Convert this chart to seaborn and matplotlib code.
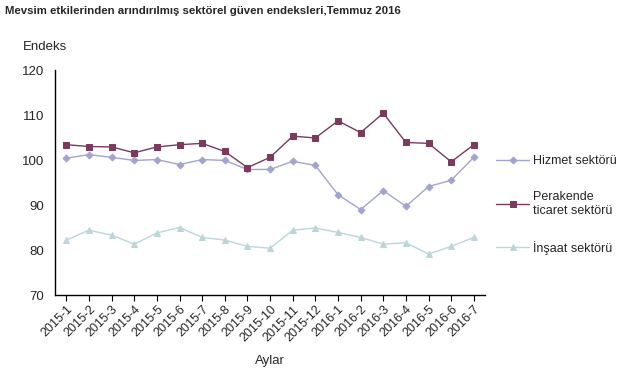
import pandas as pd
import matplotlib.pyplot as plt
import seaborn as sns

# Veriler
aylar = ['2015-1', '2015-2', '2015-3', '2015-4', '2015-5', '2015-6', '2015-7',
         '2015-8', '2015-9', '2015-10', '2015-11', '2015-12', '2016-1', '2016-2',
         '2016-3', '2016-4', '2016-5', '2016-6', '2016-7']
hizmet = [100.4, 101.2, 100.6, 99.9, 100.1, 99.0, 100.1, 99.9, 97.9, 97.9, 99.7, 98.8,
          92.3, 89.0, 93.2, 89.7, 94.1, 95.5, 100.6]
perakende = [103.4, 103.0, 102.9, 101.6, 102.9, 103.4, 103.7, 101.9, 98.3, 100.6, 105.3, 104.9,
             108.7, 106.1, 110.4, 103.9, 103.7, 99.6, 103.4]
insaat = [82.2, 84.4, 83.3, 81.3, 83.8, 85.0, 82.8, 82.2, 80.8, 80.4, 84.4, 84.9,
          83.9, 82.8, 81.3, 81.6, 79.1, 80.8, 82.8]

seriler = ['Hizmet sektörü', 'Perakende\nticaret sektörü', 'İnşaat sektörü']
renkler = ['#a3a3d1', '#7b3a5e', '#bcd6da']
isaretler = ['D', 's', '^']
boyut = [3.5, 5, 4.2]

df = pd.DataFrame({'ay': aylar, seriler[0]: hizmet, seriler[1]: perakende, seriler[2]: insaat})
uzun = df.melt(id_vars='ay', var_name='seri', value_name='endeks')

sns.set_style('white')
plt.rcParams['font.family'] = ['Arial', 'Liberation Sans', 'DejaVu Sans']

fig = plt.figure(figsize=(6.22, 3.77), dpi=100)
ax = fig.add_axes([0.0884, 0.2175, 0.6916, 0.5968])

for s, c, m, ms in zip(seriler, renkler, isaretler, boyut):
    sns.lineplot(data=uzun[uzun['seri'] == s], x='ay', y='endeks', color=c, marker=m,
                 markersize=ms, markeredgecolor=c, linewidth=1, label=s, ax=ax, sort=False)

ax.set_ylim(70, 120)
ax.set_xlim(-0.5, len(aylar) - 0.5)
ax.set_yticks(range(70, 121, 10))
ax.set_xticks(range(len(aylar)))
ax.set_xticklabels(aylar, rotation=45, ha='right', rotation_mode='anchor', fontsize=9)
ax.tick_params(axis='y', labelsize=9.5, length=0, pad=8)
ax.tick_params(axis='x', length=4, width=0.8, direction='out', color='black', pad=2, bottom=True)
for sp in ['top', 'right']:
    ax.spines[sp].set_visible(False)
for sp in ['left', 'bottom']:
    ax.spines[sp].set_color('black')
    ax.spines[sp].set_linewidth(1)

ax.set_xlabel('Aylar', fontsize=9.5, labelpad=8)
ax.set_ylabel('')
fig.text(0.036, 0.868, 'Endeks', fontsize=9.5)
fig.text(0.008, 0.962, 'Mevsim etkilerinden arındırılmış sektörel güven endeksleri,Temmuz 2016',
         fontsize=8.2, fontweight='bold')

ax.legend(loc='center left', bbox_to_anchor=(1.0, 0.40), frameon=False, fontsize=9,
          labelspacing=1.9, handlelength=2.6, handletextpad=0.3)

plt.savefig('out.png', dpi=100)
